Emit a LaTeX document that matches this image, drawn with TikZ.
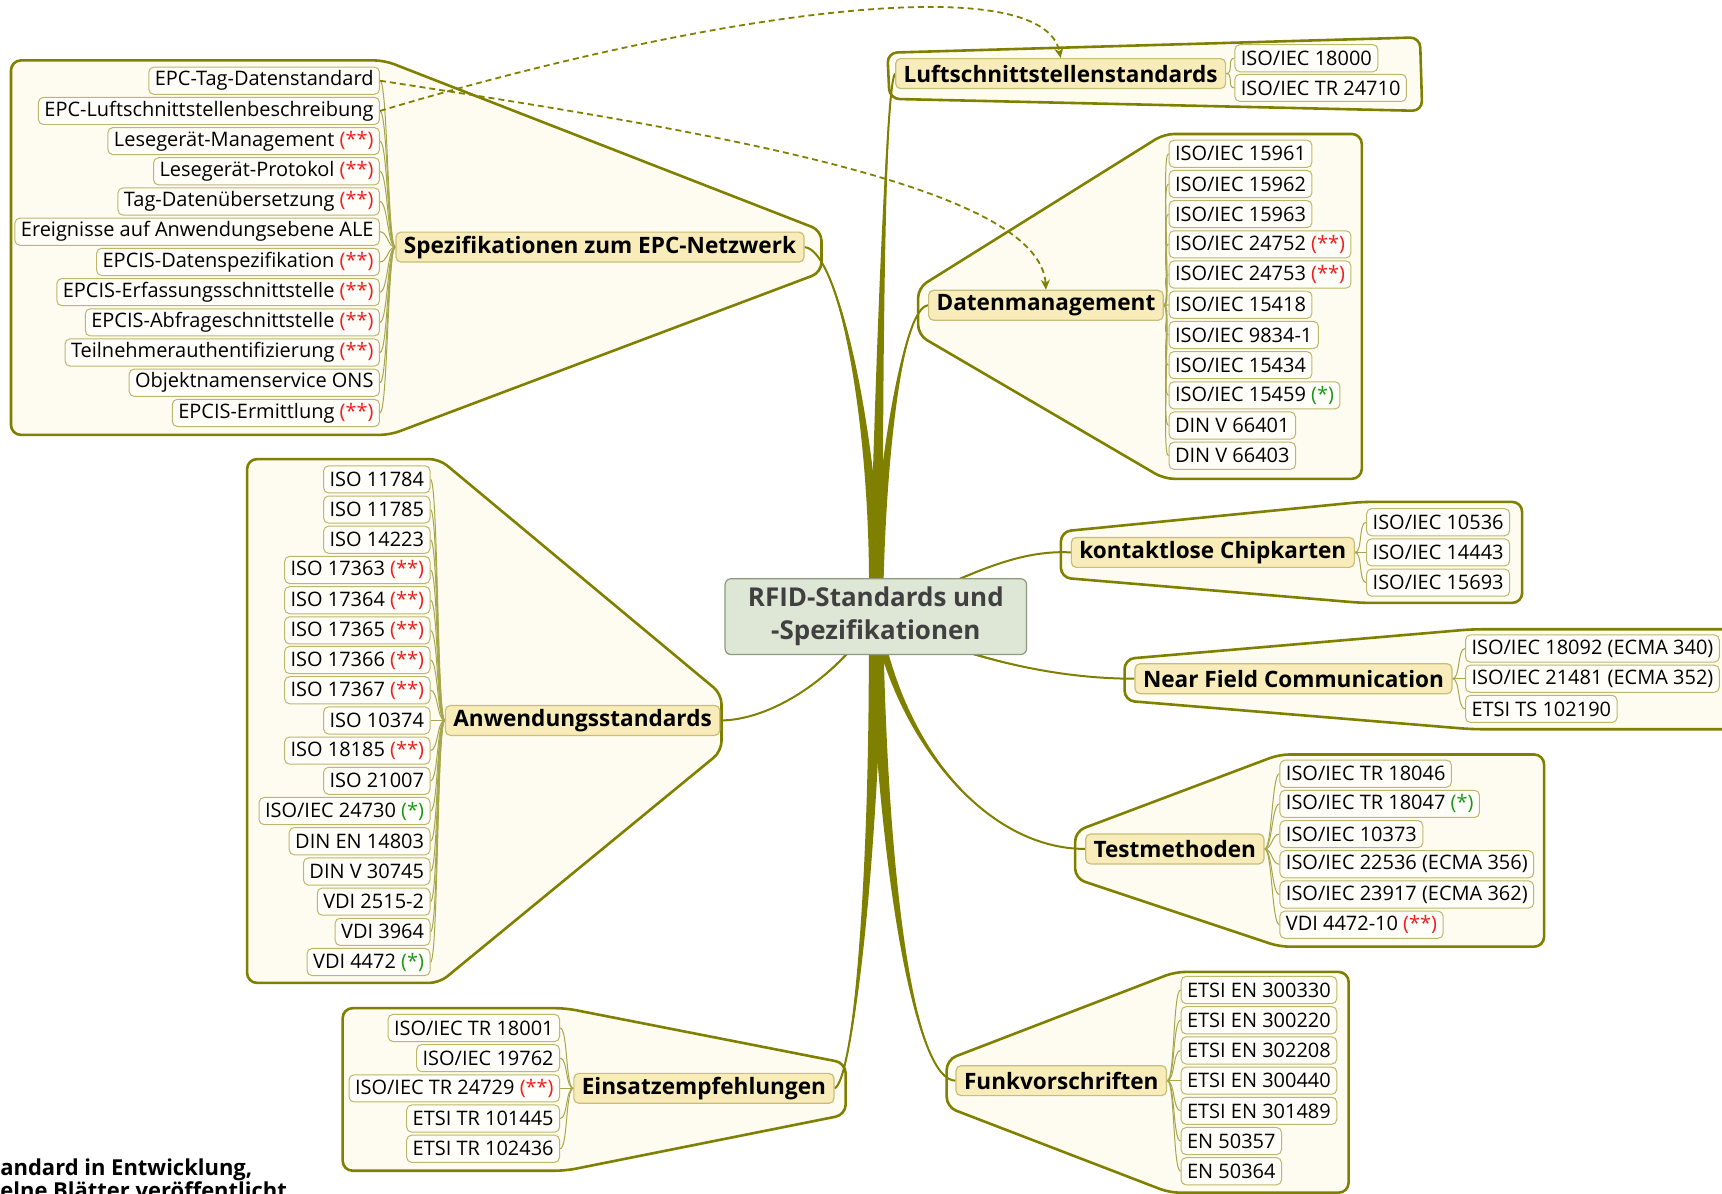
\documentclass[tikz,border=0pt]{standalone}
\usepackage{fontspec}
\setmainfont{Open Sans}
\usetikzlibrary{calc,arrows.meta,backgrounds}
\definecolor{olivex}{HTML}{808000}
\definecolor{groupfill}{HTML}{FEFCF0}
\definecolor{topicfill}{HTML}{F8ECBA}
\definecolor{topicline}{HTML}{C8BE78}
\definecolor{leaffill}{HTML}{FFFEF8}
\definecolor{leafline}{HTML}{BDB76B}
\definecolor{rootfill}{HTML}{DEE6D6}
\definecolor{rootline}{HTML}{8C9A80}
\definecolor{inred}{HTML}{F01E1E}
\definecolor{ingreen}{HTML}{1E961E}
\newcommand{\inwork}{\textcolor{inred}{(**)}}
\newcommand{\draftstd}{\textcolor{ingreen}{(*)}}
\newcommand{\branchline}[5]{%
  \fill[olivex] ($#1+#5$) .. controls ($#2+0.5*#5$) and #3 .. #4
    .. controls #3 and ($#2-0.5*#5$) .. ($#1-#5$) -- cycle;
  \draw[olivex, line width=1pt] #1 .. controls #2 and #3 .. #4;}
\begin{document}
\begin{tikzpicture}[x=0.55pt, y=-0.55pt,
    root/.style = {draw=rootline, fill=rootfill, rounded corners=3pt, line width=0.6pt, align=center, minimum width=151pt, minimum height=38pt, font=\fontsize{13}{16.5}\selectfont\bfseries, text=black!75},
    topic/.style = {draw=topicline, fill=topicfill, rounded corners=2.5pt, line width=0.6pt, minimum height=15pt, inner xsep=4pt, inner ysep=1pt, font=\fontsize{11.3}{13}\selectfont\bfseries, anchor=west},
    leaf/.style = {draw=leafline, fill=leaffill, rounded corners=2.5pt, line width=0.5pt, minimum height=13.6pt, inner xsep=3pt, inner ysep=1pt, font=\fontsize{10}{12}\selectfont},
    leafR/.style = {leaf, anchor=west},
    leafL/.style = {leaf, anchor=east},
    group/.style = {draw=olivex, fill=groupfill, line width=1.3pt, rounded corners=5pt},
    twig/.style = {draw=olivex!70, line width=0.5pt},
    link/.style = {olivex, line width=0.9pt, dash pattern=on 3pt off 2pt, -{Stealth[length=5pt, width=4.5pt]}}]
    \useasboundingbox (0,0) rectangle (1568,1087);
    \clip (0,0) rectangle (1568,1087);

    \node[root] (c) at (797.5,561.5) {RFID-Standards und\\-Spezifikationen};

    % right side
    \node[topic] (b1) at (815,67) {Luftschnittstellenstandards};
    \node[leafR] (a1) at (1124,53) {ISO/IEC 18000};
    \node[leafR] (a2) at (1124,80) {ISO/IEC TR 24710};

    \node[topic] (b2) at (845,278) {Datenmanagement};
    \node[leafR] (d1) at (1064,140) {ISO/IEC 15961};
    \node[leafR] (d2) at (1064,167.5) {ISO/IEC 15962};
    \node[leafR] (d3) at (1064,195) {ISO/IEC 15963};
    \node[leafR] (d4) at (1064,222.5) {ISO/IEC 24752 \inwork};
    \node[leafR] (d5) at (1064,250) {ISO/IEC 24753 \inwork};
    \node[leafR] (d6) at (1064,277.5) {ISO/IEC 15418};
    \node[leafR] (d7) at (1064,305) {ISO/IEC 9834-1};
    \node[leafR] (d8) at (1064,332.5) {ISO/IEC 15434};
    \node[leafR] (d9) at (1064,360) {ISO/IEC 15459 \draftstd};
    \node[leafR] (d10) at (1064,387.5) {DIN V 66401};
    \node[leafR] (d11) at (1064,415) {DIN V 66403};

    \node[topic] (b3) at (975,503) {kontaktlose Chipkarten};
    \node[leafR] (k1) at (1244,475.5) {ISO/IEC 10536};
    \node[leafR] (k2) at (1244,503) {ISO/IEC 14443};
    \node[leafR] (k3) at (1244,530.5) {ISO/IEC 15693};

    \node[topic] (b4) at (1033,618) {Near Field Communication};
    \node[leafR] (n1) at (1334,590.5) {ISO/IEC 18092 (ECMA 340)};
    \node[leafR] (n2) at (1334,618) {ISO/IEC 21481 (ECMA 352)};
    \node[leafR] (n3) at (1334,645.5) {ETSI TS 102190};

    \node[topic] (b5) at (988,773) {Testmethoden};
    \node[leafR] (t1) at (1165,704.5) {ISO/IEC TR 18046};
    \node[leafR] (t2) at (1165,732) {ISO/IEC TR 18047 \draftstd};
    \node[leafR] (t3) at (1165,759.5) {ISO/IEC 10373};
    \node[leafR] (t4) at (1165,787) {ISO/IEC 22536 (ECMA 356)};
    \node[leafR] (t5) at (1165,814.5) {ISO/IEC 23917 (ECMA 362)};
    \node[leafR] (t6) at (1165,842) {VDI 4472-10 \inwork};

    \node[topic] (b6) at (870,984) {Funkvorschriften};
    \node[leafR] (f1) at (1075,901.5) {ETSI EN 300330};
    \node[leafR] (f2) at (1075,929) {ETSI EN 300220};
    \node[leafR] (f3) at (1075,956.5) {ETSI EN 302208};
    \node[leafR] (f4) at (1075,984) {ETSI EN 300440};
    \node[leafR] (f5) at (1075,1011.5) {ETSI EN 301489};
    \node[leafR] (f6) at (1075,1039) {EN 50357};
    \node[leafR] (f7) at (1075,1066.5) {EN 50364};

    % left side
    \node[topic] (b7) at (360,225) {Spezifikationen zum EPC-Netzwerk};
    \node[leafL] (e1) at (346,73.5) {EPC-Tag-Datenstandard};
    \node[leafL] (e2) at (346,101) {EPC-Luftschnittstellenbeschreibung};
    \node[leafL] (e3) at (346,128.5) {Lesegerät-Management \inwork};
    \node[leafL] (e4) at (346,156) {Lesegerät-Protokol \inwork};
    \node[leafL] (e5) at (346,183.5) {Tag-Datenübersetzung \inwork};
    \node[leafL] (e6) at (346,211) {Ereignisse auf Anwendungsebene ALE};
    \node[leafL] (e7) at (346,238.5) {EPCIS-Datenspezifikation \inwork};
    \node[leafL] (e8) at (346,266) {EPCIS-Erfassungsschnittstelle \inwork};
    \node[leafL] (e9) at (346,293.5) {EPCIS-Abfrageschnittstelle \inwork};
    \node[leafL] (e10) at (346,321) {Teilnehmerauthentifizierung \inwork};
    \node[leafL] (e11) at (346,348.5) {Objektnamenservice ONS};
    \node[leafL] (e12) at (346,376) {EPCIS-Ermittlung \inwork};

    \node[topic] (b8) at (405,656) {Anwendungsstandards};
    \node[leafL] (s1) at (392,436.5) {ISO 11784};
    \node[leafL] (s2) at (392,464) {ISO 11785};
    \node[leafL] (s3) at (392,491.5) {ISO 14223};
    \node[leafL] (s4) at (392,519) {ISO 17363 \inwork};
    \node[leafL] (s5) at (392,546.5) {ISO 17364 \inwork};
    \node[leafL] (s6) at (392,574) {ISO 17365 \inwork};
    \node[leafL] (s7) at (392,601) {ISO 17366 \inwork};
    \node[leafL] (s8) at (392,628.5) {ISO 17367 \inwork};
    \node[leafL] (s9) at (392,656) {ISO 10374};
    \node[leafL] (s10) at (392,683.5) {ISO 18185 \inwork};
    \node[leafL] (s11) at (392,711) {ISO 21007};
    \node[leafL] (s12) at (392,738.5) {ISO/IEC 24730 \draftstd};
    \node[leafL] (s13) at (392,766) {DIN EN 14803};
    \node[leafL] (s14) at (392,793.5) {DIN V 30745};
    \node[leafL] (s15) at (392,821) {VDI 2515-2};
    \node[leafL] (s16) at (392,848.5) {VDI 3964};
    \node[leafL] (s17) at (392,876) {VDI 4472 \draftstd};

    \node[topic] (b9) at (522,991) {Einsatzempfehlungen};
    \node[leafL] (w1) at (510,936) {ISO/IEC TR 18001};
    \node[leafL] (w2) at (510,963.5) {ISO/IEC 19762};
    \node[leafL] (w3) at (510,991) {ISO/IEC TR 24729 \inwork};
    \node[leafL] (w4) at (510,1018.5) {ETSI TR 101445};
    \node[leafL] (w5) at (510,1046) {ETSI TR 102436};

    \node[anchor=north west, inner sep=0pt, align=left, font=\fontsize{11}{11.6}\selectfont\bfseries] (note) at (0,1055) {andard in Entwicklung,\\elne Blätter veröffentlicht};

    \begin{scope}[on background layer]
    % boundaries
    \draw[group] (808,48) -- (1293,34) -- (1295,101) -- (810,90) -- cycle;
    \draw[group] (836,262) -- (1060,122) -- (1240,122) -- (1240,436) -- (1060,436) -- (836,305) -- cycle;
    \draw[group] (966,484) -- (1240,457) -- (1386,457) -- (1386,549) -- (1240,549) -- (966,526) -- cycle;
    \draw[group] (1024,600) -- (1340,573) -- (1600,573) -- (1600,664) -- (1340,664) -- (1024,638) -- cycle;
    \draw[group] (979,757) -- (1165,687) -- (1406,687) -- (1406,862) -- (1165,862) -- (979,800) -- cycle;
    \draw[group] (862,965) -- (1070,885) -- (1228,885) -- (1228,1086) -- (1065,1086) -- (862,1008) -- cycle;
    \draw[group] (10,55) -- (350,55) -- (748,210) -- (748,248) -- (355,396) -- (10,396) -- cycle;
    \draw[group] (225,418) -- (400,418) -- (657,632) -- (657,684) -- (400,895) -- (225,895) -- cycle;
    \draw[group] (312,918) -- (515,918) -- (770,968) -- (770,1015) -- (515,1066) -- (312,1066) -- cycle;

    % main branches
    \branchline{(c.center)}{(800,350)}{(806,78)}{(b1.west)}{(6.5,0)}
    \branchline{(c.center)}{(798,400)}{(765,228)}{(b7.east)}{(6.5,0)}
    \branchline{(c.center)}{(802,420)}{(822,280)}{(b2.west)}{(6.5,0)}
    \branchline{(c.center)}{(796,800)}{(776,985)}{(b9.east)}{(6.5,0)}
    \branchline{(c.center)}{(805,820)}{(835,984)}{(b6.west)}{(6.5,0)}
    \branchline{(c.center)}{(820,680)}{(900,773)}{(b5.west)}{(4,0)}
    \branchline{(c.center)}{(870,530)}{(920,500)}{(b3.west)}{(0,2)}
    \branchline{(c.center)}{(880,600)}{(960,618)}{(b4.west)}{(0,2)}
    \branchline{(c.center)}{(760,620)}{(700,656)}{(b8.east)}{(2,0)}

    % leaf lines
    \foreach \i in {1,2} \draw[twig] (b1.east) .. controls +(7,0) and +(-7,0) .. (a\i.west);
    \foreach \i in {1,...,11} \draw[twig] (b2.east) .. controls +(7,0) and +(-7,0) .. (d\i.west);
    \foreach \i in {1,2,3} \draw[twig] (b3.east) .. controls +(7,0) and +(-7,0) .. (k\i.west);
    \foreach \i in {1,2,3} \draw[twig] (b4.east) .. controls +(7,0) and +(-7,0) .. (n\i.west);
    \foreach \i in {1,...,6} \draw[twig] (b5.east) .. controls +(7,0) and +(-7,0) .. (t\i.west);
    \foreach \i in {1,...,7} \draw[twig] (b6.east) .. controls +(7,0) and +(-7,0) .. (f\i.west);
    \foreach \i in {1,...,12} \draw[twig] (b7.west) .. controls +(-7,0) and +(7,0) .. (e\i.east);
    \foreach \i in {1,...,17} \draw[twig] (b8.west) .. controls +(-7,0) and +(7,0) .. (s\i.east);
    \foreach \i in {1,...,5} \draw[twig] (b9.west) .. controls +(-7,0) and +(7,0) .. (w\i.east);
    \end{scope}

    % cross links
    \draw[link] (e1.east) .. controls (650,120) and (947,170) .. (b2.north);
    \draw[link] (e2.east) .. controls (650,10) and (950,-30) .. (b1.north);
\end{tikzpicture}
\end{document}
